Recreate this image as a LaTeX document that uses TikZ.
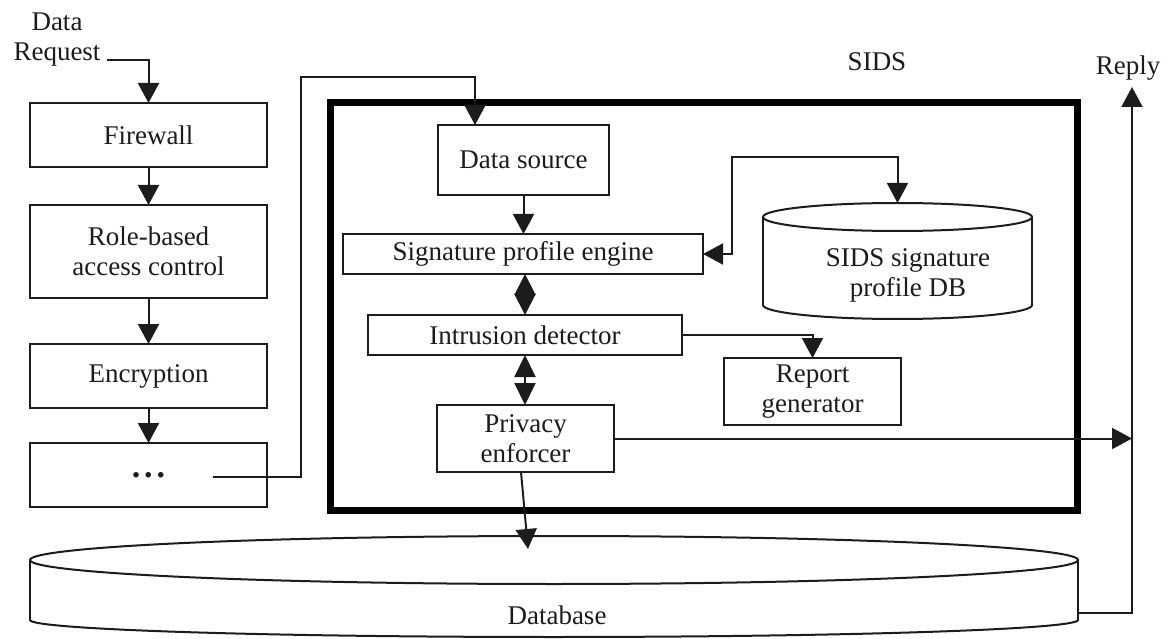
\documentclass[tikz,border=0pt]{standalone}
\usepackage{fontspec}
\setmainfont{Liberation Serif}
\usetikzlibrary{arrows.meta}
\definecolor{ink}{HTML}{1C1C1C}
\begin{document}
\begin{tikzpicture}[x=1pt,y=-1pt,
  every node/.style={font=\fontsize{27}{30}\selectfont, text=ink, align=center, inner sep=0pt, outer sep=0pt},
  box/.style={draw=ink, line width=2pt, fill=white},
  wire/.style={draw=ink, line width=2pt},
  fwd/.style={-{Triangle[length=20pt,width=21pt]}},
  twoway/.style={{Triangle[length=#1,width=21pt]}-{Triangle[length=#1,width=21pt]}},
  twoway/.default=20pt,
]
\useasboundingbox (0,0) rectangle (1168,639);

% shared database cylinder along the bottom
\draw[wire, fill=white] (554,620) ellipse [x radius=524, y radius=17];
\fill[white] (30,560) rectangle (1078,620);
\draw[wire] (30,560) -- (30,620) (1078,560) -- (1078,620);
\draw[wire, fill=white] (554,560) ellipse [x radius=524, y radius=24];
\node (dbl) at (557,615) {Database};
\coordinate (dbtopM) at (528,549);
\coordinate (dbR) at (1078,613);

% SIDS frame
\node[draw=black, line width=7pt, minimum width=747pt, minimum height=408pt] (sids) at (704,306.5) {};
\node (sidsl) at (877,62) {SIDS};

% access-control pipeline
\node[box, minimum width=237pt, minimum height=64pt] (fw) at (148.5,135) {Firewall};
\node[box, minimum width=237pt, minimum height=93pt] (rbac) at (148.5,251.5) {Role-based\\access control};
\node[box, minimum width=237pt, minimum height=64pt] (enc) at (148.5,376) {Encryption};
\node[box, minimum width=237pt, minimum height=64pt] (more) at (148.5,475)
  {\fontsize{34}{34}\selectfont\textbf{.\hspace{4pt}.\hspace{4pt}.}};

\node (dr) at (57,40) {Data\\Request};
\coordinate (drE) at (107,60);
\draw[wire, fwd] (drE) -| (fw.north);
\draw[wire, fwd] (fw) -- (rbac);
\draw[wire, fwd] (rbac) -- (enc);
\draw[wire, fwd] (enc) -- (more);

% SIDS components
\node[box, minimum width=171pt, minimum height=70pt] (ds) at (523.5,160) {Data source};
\node[box, minimum width=360pt, minimum height=40pt] (spe) at (523,254) {Signature profile engine};
\node[box, minimum width=314pt, minimum height=40pt] (idt) at (525,335) {Intrusion detector};
\node[box, minimum width=177pt, minimum height=67pt] (pe) at (525.5,438.5) {Privacy\\enforcer};
\node[box, minimum width=177pt, minimum height=67pt] (rg) at (812.5,391.5) {Report\\generator};

% signature profile store
\draw[wire, fill=white] (897.5,305) ellipse [x radius=134.5, y radius=14];
\fill[white] (763,217) rectangle (1032,305);
\draw[wire] (763,217) -- (763,305) (1032,217) -- (1032,305);
\draw[wire, fill=white] (897.5,217) ellipse [x radius=134.5, y radius=14];
\node (sdb) at (908,275) {SIDS signature\\profile DB};
\coordinate (sdbT) at (897.5,203);

% request route into the SIDS
\coordinate (mo) at (213,477);
\coordinate (bend) at (301,477);
\coordinate (inT) at (475,77);
\draw[wire, fwd] (mo) -- (bend) |- (inT) -- (inT |- ds.north);

% internal flows
\draw[wire, fwd] (ds.south) -- (ds.south |- spe.north);
\draw[wire, twoway=21pt] (idt.north |- spe.south) -- (idt.north);
\draw[wire, twoway=22pt] (idt.south) -- (idt.south |- pe.north);
\coordinate (k1) at (732,254);
\coordinate (k2) at (732,157);
\draw[wire, twoway] (spe.east) -- (k1) -- (k2) -| (sdbT);
\draw[wire, fwd] (idt.east) -| (rg.north);

% outputs
\coordinate (rtop) at (1132,87);
\node (reply) at (1128,68) {Reply};
\draw[wire, fwd] (pe.east) -- (pe.east -| rtop);
\draw[wire, fwd] (dbR) -| (rtop);
\coordinate (peB) at (521,472);
\draw[wire, fwd] (peB) -- (dbtopM);
\end{tikzpicture}
\end{document}
